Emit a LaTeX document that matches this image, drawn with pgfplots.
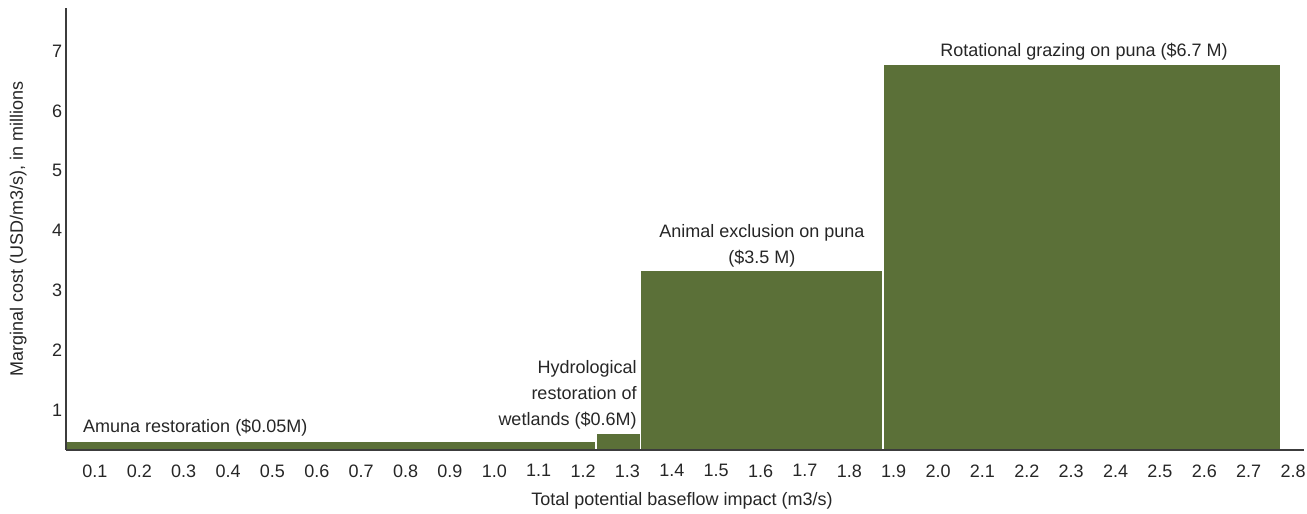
\documentclass[border=0pt]{standalone}
\usepackage{fontspec}
\setmainfont{Liberation Sans}
\usepackage{pgfplots}
\pgfplotsset{compat=1.18}
\definecolor{barg}{HTML}{5B7038}
\definecolor{axg}{HTML}{3C3C3C}
\definecolor{txt}{HTML}{262626}
\newcommand{\fs}{\fontsize{18}{26}\selectfont}
\begin{document}
\begin{tikzpicture}
\path[use as bounding box] (0,0) rectangle (1307pt,514pt);
\begin{axis}[
  at={(65.7pt,64pt)}, anchor=south west,
  scale only axis, width=1238.3pt, height=441.7pt,
  xmin=0.034, xmax=2.8248, ymin=0.329, ymax=7.716,
  axis x line=bottom, axis y line=left,
  axis line style={-, draw=axg, line width=1.6pt},
  major tick length=0pt,
  xtick={0.1,0.2,0.3,0.4,0.5,0.6,0.7,0.8,0.9,1.0,1.1,1.2,1.3,1.4,1.5,1.6,1.7,1.8,1.9,2.0,2.1,2.2,2.3,2.4,2.5,2.6,2.7,2.8},
  xticklabels={0.1,0.2,0.3,0.4,0.5,0.6,0.7,0.8,0.9,1.0,1.1,1.2,1.3,1.4,1.5,1.6,1.7,1.8,1.9,2.0,2.1,2.2,2.3,2.4,2.5,2.6,2.7,2.8},
  ytick={1,2,3,4,5,6,7},
  /pgf/number format/assume math mode=true,
  tick label style={font=\fs, text=txt},
  xticklabel style={yshift=-11pt},
  xlabel={Total potential baseflow impact (m3/s)},
  ylabel={Marginal cost (USD/m3/s), in millions},
  label style={font=\fs, text=txt},
  xlabel style={at={(axis description cs:0.4977,-0.115)}, anchor=center},
  ylabel style={at={(axis description cs:-0.0384,0.5)}, anchor=center},
  axis on top,
]
% bars: marginal cost blocks
\addplot[fill=barg, draw=white, line width=1.4pt] coordinates {(0.034,0) (0.034,0.468) (1.229,0.468) (1.229,0)} -- cycle;
\addplot[fill=barg, draw=white, line width=1.4pt] coordinates {(1.229,0) (1.229,0.609) (1.330,0.609) (1.330,0)} -- cycle;
\addplot[fill=barg, draw=white, line width=1.4pt] coordinates {(1.330,0) (1.330,3.34) (1.876,3.34) (1.876,0)} -- cycle;
\addplot[fill=barg, draw=white, line width=1.4pt] coordinates {(1.876,0) (1.876,6.78) (2.772,6.78) (2.772,0)} -- cycle;

\node[anchor=west, inner sep=0pt, font=\fs, text=txt] at (axis cs:0.073,0.697) {Amuna restoration (\$0.05M)};
\node[anchor=east, align=right, inner sep=0pt, font=\fs, text=txt] at (axis cs:1.321,1.25) {Hydrological\\restoration of\\wetlands (\$0.6M)};
\node[align=center, inner sep=0pt, font=\fs, text=txt] at (axis cs:1.603,3.74) {Animal exclusion on puna\\(\$3.5 M)};
\node[inner sep=0pt, font=\fs, text=txt] at (axis cs:2.329,6.99) {Rotational grazing on puna (\$6.7 M)};
\end{axis}
\end{tikzpicture}
\end{document}
